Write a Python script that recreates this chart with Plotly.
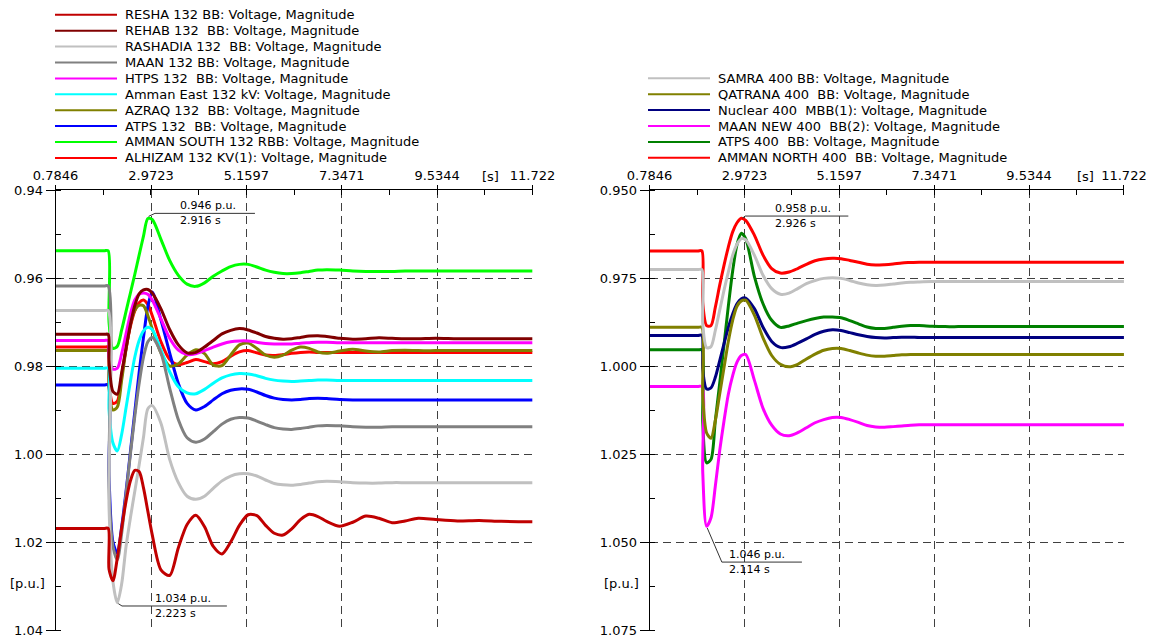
import plotly.graph_objects as go

W, H = 1157, 639          # browser window
PAD = 8                   # default page margin before the plot div
FW, FH = W - PAD, H - PAD  # figure reaches the window's right / bottom edge

# ---------------- data ----------------
T = [0.7846, 1.5, 1.9, 1.99, 2.01, 2.1, 2.2, 2.3, 2.4, 2.5, 2.6, 2.7, 2.8, 2.9, 3.0,
     3.2, 3.4, 3.6, 3.8, 4.0, 4.2, 4.4, 4.6, 4.8, 5.0, 5.2, 5.4, 5.6, 5.8, 6.0,
     6.2, 6.4, 6.6, 6.8, 7.0, 7.3, 7.6, 7.9, 8.2, 8.5, 8.8, 9.1, 9.5, 10.0, 10.5, 11.0, 11.722]

# 132 kV buses (left panel)
RESHA = [1.0169, 1.0169, 1.0169, 1.0169, 1.0262, 1.0288, 1.0236, 1.0168, 1.0107, 1.0061, 1.0037,
         1.0040, 1.0077, 1.0130, 1.0183, 1.0263, 1.0276, 1.0213, 1.0160, 1.0139, 1.0165, 1.0210,
         1.0227, 1.0200, 1.0162, 1.0138, 1.0140, 1.0162, 1.0180, 1.0184, 1.0170, 1.0149, 1.0137,
         1.0142, 1.0153, 1.0164, 1.0155, 1.0141, 1.0146, 1.0156, 1.0152, 1.0146, 1.0149, 1.0152,
         1.0151, 1.0153, 1.0154]
REHAB = [0.9728, 0.9728, 0.9728, 0.9728, 0.979, 0.9858, 0.9864, 0.9815, 0.9760, 0.9706, 0.9663,
         0.9636, 0.9627, 0.9626, 0.9634, 0.9670, 0.9717, 0.9752, 0.9770, 0.9769, 0.9757, 0.9742,
         0.9727, 0.9719, 0.9715, 0.9718, 0.9725, 0.9733, 0.9737, 0.9739, 0.9738, 0.9735, 0.9732,
         0.9731, 0.9733, 0.9737, 0.9739, 0.9738, 0.9736, 0.9737, 0.9738, 0.9738, 0.9737, 0.9738,
         0.9738, 0.9738, 0.9738]
RASHADIA = [0.9674, 0.9674, 0.9674, 0.9674, 1.012, 1.029, 1.0338, 1.0295, 1.021, 1.0145, 1.0085,
            1.0025, 0.9962, 0.9897, 0.9890, 0.9930, 1.0012, 1.0065, 1.0096, 1.0103, 1.0096, 1.0078,
            1.0061, 1.0050, 1.0045, 1.0045, 1.0050, 1.0059, 1.0067, 1.0070, 1.0071, 1.0069, 1.0066,
            1.0063, 1.0062, 1.0063, 1.0065, 1.0066, 1.0066, 1.0065, 1.0065, 1.0065, 1.0065, 1.0065,
            1.0065, 1.0065, 1.0065]
MAAN132 = [0.9618, 0.9618, 0.9618, 0.9618, 1.008, 1.021, 1.024, 1.018, 1.009, 1.000, 0.9915,
           0.9840, 0.9780, 0.9745, 0.9735, 0.9770, 0.9850, 0.9922, 0.9963, 0.9973, 0.9966, 0.9949,
           0.9932, 0.9921, 0.9917, 0.9918, 0.9925, 0.9933, 0.9940, 0.9943, 0.9944, 0.9942, 0.9939,
           0.9936, 0.9935, 0.9936, 0.9938, 0.9939, 0.9939, 0.9938, 0.9938, 0.9938, 0.9938, 0.9938,
           0.9938, 0.9938, 0.9938]
HTPS = [0.9742, 0.9742, 0.9742, 0.9742, 0.978, 0.9807, 0.9805, 0.9772, 0.9727, 0.9682, 0.9650,
        0.9637, 0.9634, 0.9637, 0.9650, 0.9693, 0.9737, 0.9764, 0.9774, 0.9772, 0.9765, 0.9757,
        0.9750, 0.9745, 0.9743, 0.9743, 0.9746, 0.9749, 0.9750, 0.9750, 0.9750, 0.9748, 0.9747,
        0.9746, 0.9746, 0.9747, 0.9747, 0.9747, 0.9747, 0.9747, 0.9747, 0.9747, 0.9747, 0.9747,
        0.9747, 0.9747, 0.9747]
AMMAN_EAST = [0.9805, 0.9805, 0.9805, 0.9805, 0.990, 0.9975, 0.9993, 0.9955, 0.9895, 0.9835, 0.9780,
              0.9742, 0.9720, 0.9712, 0.9717, 0.9763, 0.9813, 0.9847, 0.9861, 0.9863, 0.9853, 0.9839,
              0.9827, 0.9820, 0.9817, 0.9818, 0.9822, 0.9828, 0.9832, 0.9834, 0.9835, 0.9834, 0.9833,
              0.9832, 0.9832, 0.9833, 0.9833, 0.9833, 0.9833, 0.9833, 0.9833, 0.9833, 0.9833, 0.9833,
              0.9833, 0.9833, 0.9833]
AZRAQ = [0.9765, 0.9765, 0.9765, 0.9765, 0.985, 0.9900, 0.9893, 0.9832, 0.9762, 0.9705, 0.9673,
         0.9662, 0.9663, 0.9685, 0.9715, 0.9770, 0.9800, 0.9795, 0.9775, 0.9763, 0.9772, 0.9798,
         0.9799, 0.9775, 0.9752, 0.9748, 0.9760, 0.9775, 0.9780, 0.9775, 0.9764, 0.9757, 0.9760,
         0.9768, 0.9771, 0.9766, 0.9762, 0.9766, 0.9768, 0.9765, 0.9764, 0.9765, 0.9765, 0.9765,
         0.9765, 0.9765, 0.9765]
ATPS132 = [0.9843, 0.9843, 0.9843, 0.9843, 1.005, 1.020, 1.0225, 1.0165, 1.0085, 0.9995, 0.9905,
           0.9815, 0.9735, 0.9665, 0.9632, 0.9695, 0.9770, 0.9840, 0.9885, 0.9900, 0.9892, 0.9877,
           0.9863, 0.9855, 0.9852, 0.9853, 0.9859, 0.9867, 0.9873, 0.9876, 0.9877, 0.9876, 0.9874,
           0.9873, 0.9874, 0.9876, 0.9877, 0.9877, 0.9877, 0.9877, 0.9877, 0.9877, 0.9877, 0.9877,
           0.9877, 0.9877, 0.9877]
AMMAN_SOUTH = [0.9538, 0.9538, 0.9538, 0.9538, 0.970, 0.9760, 0.9755, 0.9718, 0.9676, 0.9634, 0.9592,
               0.9548, 0.9505, 0.9465, 0.9467, 0.9512, 0.9560, 0.9594, 0.9614, 0.9619, 0.9611, 0.9596,
               0.9584, 0.9574, 0.9569, 0.9569, 0.9575, 0.9582, 0.9587, 0.9590, 0.9590, 0.9588, 0.9585,
               0.9582, 0.9581, 0.9582, 0.9584, 0.9585, 0.9585, 0.9585, 0.9584, 0.9584, 0.9584, 0.9584,
               0.9584, 0.9584, 0.9584]
ALHIZAM = [0.9757, 0.9757, 0.9757, 0.9757, 0.984, 0.9885, 0.9880, 0.9822, 0.9760, 0.9710, 0.9675,
           0.9656, 0.9650, 0.9660, 0.9685, 0.9745, 0.9785, 0.9797, 0.9792, 0.9785, 0.9790, 0.9795,
           0.9790, 0.9778, 0.9768, 0.9765, 0.9770, 0.9775, 0.9776, 0.9774, 0.9771, 0.9769, 0.9768,
           0.9769, 0.9769, 0.9769, 0.9769, 0.9769, 0.9769, 0.9769, 0.9769, 0.9769, 0.9769, 0.9769,
           0.9769, 0.9769, 0.9769]

# 400 kV buses (right panel)
SAMRA = [0.9726, 0.9726, 0.9726, 0.9726, 0.988, 0.9948, 0.9945, 0.9899, 0.9842, 0.9785, 0.9733,
         0.9685, 0.9654, 0.9638, 0.9641, 0.9685, 0.9742, 0.9780, 0.9796, 0.9793, 0.9780, 0.9766,
         0.9757, 0.9751, 0.9749, 0.9751, 0.9757, 0.9764, 0.9769, 0.9771, 0.9770, 0.9767, 0.9764,
         0.9762, 0.9761, 0.9760, 0.9760, 0.9760, 0.9760, 0.9760, 0.9760, 0.9760, 0.9760, 0.9760,
         0.9760, 0.9760, 0.9760]
QATRANA = [0.9890, 0.9890, 0.9890, 0.9890, 1.008, 1.0190, 1.0205, 1.0155, 1.0080, 1.0005, 0.9930,
           0.9870, 0.9830, 0.9815, 0.9813, 0.9855, 0.9920, 0.9970, 0.9995, 1.0002, 0.9995, 0.9980,
           0.9966, 0.9955, 0.9950, 0.9950, 0.9956, 0.9963, 0.9969, 0.9972, 0.9972, 0.9970, 0.9968,
           0.9967, 0.9967, 0.9967, 0.9967, 0.9967, 0.9967, 0.9967, 0.9967, 0.9967, 0.9967, 0.9967,
           0.9967, 0.9967, 0.9967]
NUCLEAR = [0.9913, 0.9913, 0.9913, 0.9913, 1.001, 1.0065, 1.0062, 1.0032, 0.9985, 0.9937, 0.9890,
           0.9852, 0.9823, 0.9809, 0.9807, 0.9837, 0.9890, 0.9930, 0.9947, 0.9945, 0.9935, 0.9923,
           0.9910, 0.9901, 0.9897, 0.9899, 0.9905, 0.9911, 0.9916, 0.9919, 0.9920, 0.9919, 0.9918,
           0.9918, 0.9919, 0.9919, 0.9919, 0.9919, 0.9919, 0.9919, 0.9919, 0.9919, 0.9919, 0.9919,
           0.9919, 0.9919, 0.9919]
MAAN_NEW = [1.0058, 1.0058, 1.0058, 1.0058, 1.030, 1.0455, 1.0431, 1.0341, 1.0241, 1.0156, 1.0080,
            1.0027, 0.9989, 0.9970, 0.9967, 1.0040, 1.0120, 1.0168, 1.0193, 1.0198, 1.0189, 1.0175,
            1.0161, 1.0152, 1.0146, 1.0146, 1.0152, 1.0160, 1.0169, 1.0173, 1.0174, 1.0172, 1.0170,
            1.0168, 1.0167, 1.0167, 1.0167, 1.0167, 1.0167, 1.0167, 1.0167, 1.0167, 1.0167, 1.0167,
            1.0167, 1.0167, 1.0167]
ATPS400 = [0.9954, 0.9954, 0.9954, 0.9954, 1.016, 1.0275, 1.0265, 1.0155, 1.0050, 0.9940, 0.9830,
           0.9730, 0.9655, 0.9623, 0.9638, 0.9745, 0.9823, 0.9870, 0.9890, 0.9886, 0.9878, 0.9871,
           0.9865, 0.9861, 0.9861, 0.9863, 0.9871, 0.9880, 0.9889, 0.9893, 0.9893, 0.9890, 0.9887,
           0.9885, 0.9885, 0.9887, 0.9888, 0.9888, 0.9888, 0.9888, 0.9888, 0.9888, 0.9888, 0.9888,
           0.9888, 0.9888, 0.9888]
AMMAN_NORTH = [0.9673, 0.9673, 0.9673, 0.9673, 0.982, 0.9885, 0.9885, 0.9833, 0.9771, 0.9714, 0.9662,
               0.9619, 0.9593, 0.9580, 0.9586, 0.9628, 0.9685, 0.9723, 0.9736, 0.9733, 0.9723, 0.9711,
               0.9701, 0.9696, 0.9694, 0.9695, 0.9700, 0.9705, 0.9711, 0.9713, 0.9712, 0.9710, 0.9707,
               0.9706, 0.9705, 0.9705, 0.9705, 0.9705, 0.9705, 0.9705, 0.9705, 0.9705, 0.9705, 0.9705,
               0.9705, 0.9705, 0.9705]

X_TICKS = [0.7846, 2.9723, 5.1597, 7.3471, 9.5344, 11.722]
X_TICK_TEXT = ["0.7846", "2.9723", "5.1597", "7.3471", "9.5344", "11.722"]
Y1_TICKS = [0.94, 0.96, 0.98, 1.00, 1.02, 1.04]
Y2_TICKS = [0.950, 0.975, 1.000, 1.025, 1.050, 1.075]

# legend order top -> bottom
LEFT = [
    ("RESHA 132 BB: Voltage, Magnitude", "#c00000", RESHA),
    ("REHAB 132  BB: Voltage, Magnitude", "#800000", REHAB),
    ("RASHADIA 132  BB: Voltage, Magnitude", "#c0c0c0", RASHADIA),
    ("MAAN 132 BB: Voltage, Magnitude", "#808080", MAAN132),
    ("HTPS 132  BB: Voltage, Magnitude", "#ff00ff", HTPS),
    ("Amman East 132 kV: Voltage, Magnitude", "#00ffff", AMMAN_EAST),
    ("AZRAQ 132  BB: Voltage, Magnitude", "#808000", AZRAQ),
    ("ATPS 132  BB: Voltage, Magnitude", "#0000ff", ATPS132),
    ("AMMAN SOUTH 132 RBB: Voltage, Magnitude", "#00ff00", AMMAN_SOUTH),
    ("ALHIZAM 132 KV(1): Voltage, Magnitude", "#ff0000", ALHIZAM),
]
RIGHT = [
    ("SAMRA 400 BB: Voltage, Magnitude", "#c0c0c0", SAMRA),
    ("QATRANA 400  BB: Voltage, Magnitude", "#808000", QATRANA),
    ("Nuclear 400  MBB(1): Voltage, Magnitude", "#000080", NUCLEAR),
    ("MAAN NEW 400  BB(2): Voltage, Magnitude", "#ff00ff", MAAN_NEW),
    ("ATPS 400  BB: Voltage, Magnitude", "#008000", ATPS400),
    ("AMMAN NORTH 400  BB: Voltage, Magnitude", "#ff0000", AMMAN_NORTH),
]
for _n, _c, _v in LEFT + RIGHT:
    assert len(_v) == len(T), (_n, len(_v))

# markers: (time, value, text_value, text_time)
LEFT_MARKS = [(2.916, 0.946, "0.946 p.u.", "2.916 s"), (2.223, 1.034, "1.034 p.u.", "2.223 s")]
RIGHT_MARKS = [(2.926, 0.958, "0.958 p.u.", "2.926 s"), (2.114, 1.046, "1.046 p.u.", "2.114 s")]

# ---------------- figure ----------------
FONT = "DejaVu Sans"
fig = go.Figure()

for (series, xa, ya) in ((LEFT, "x", "y"), (RIGHT, "x2", "y2")):
    for name, color, vals in reversed(series):
        fig.add_trace(go.Scatter(x=T, y=vals, mode="lines", name=name, showlegend=False,
                                 xaxis=xa, yaxis=ya,
                                 line=dict(color=color, width=3, shape="spline", smoothing=0.8)))

def px(x):
    """window pixel -> paper x"""
    return (x - PAD) / FW

def py(y):
    """window pixel -> paper y"""
    return 1 - (y - PAD) / FH

shapes = []
annotations = []

# manual legends
def legend(series, x_line0, x_line1, x_text, y_top, dy):
    for i, (name, color, _v) in enumerate(series):
        yy = py(y_top + dy * i)
        shapes.append(dict(type="line", xref="paper", yref="paper", x0=px(x_line0), x1=px(x_line1),
                           y0=yy, y1=yy, line=dict(color=color, width=2)))
        annotations.append(dict(xref="paper", yref="paper", x=px(x_text), y=yy, text=name,
                                showarrow=False, xanchor="left", yanchor="middle",
                                font=dict(family=FONT, size=13, color="black")))

legend(LEFT, 55, 117, 123, 14.8, 15.9)
legend(RIGHT, 648, 710, 716, 78.3, 15.9)

# peak / dip callouts
def callout(xr, yr, t0, v0, dt1, dv1, dt2, tt, dvt1, dvt2, txt1, txt2):
    shapes.append(dict(type="path", xref=xr, yref=yr,
                       path=f"M{t0},{v0} L{t0+dt1},{v0+dv1} L{t0+dt2},{v0+dv1}",
                       line=dict(color="#333333", width=1)))
    annotations.append(dict(xref=xr, yref=yr, x=t0 + tt, y=v0 + dv1 + dvt1, text=txt1, showarrow=False,
                            xanchor="left", yanchor="middle", font=dict(family=FONT, size=11, color="black")))
    annotations.append(dict(xref=xr, yref=yr, x=t0 + tt, y=v0 + dv1 + dvt2, text=txt2, showarrow=False,
                            xanchor="left", yanchor="middle", font=dict(family=FONT, size=11, color="black")))

t, v, a, b = LEFT_MARKS[0]
callout("x", "y", t, v, 0.147, -0.00069, 2.44, 0.674, -0.00175, 0.00165, a, b)
t, v, a, b = LEFT_MARKS[1]
callout("x", "y", t, v, 0.084, 0.00053, 2.49, 0.794, -0.00160, 0.00165, a, b)
t, v, a, b = RIGHT_MARKS[0]
callout("x2", "y2", t, v, 0.062, -0.0006, 2.441, 0.708, -0.0021, 0.0021, a, b)
t, v, a, b = RIGHT_MARKS[1]
callout("x2", "y2", t, v, 0.336, 0.00967, 2.183, 0.458, -0.0021, 0.0021, a, b)

# axis unit labels
for xx, yy, txt, anc in ((490, 176, "[s]", "center"), (1085, 176, "[s]", "center"),
                         (47, 583, "[p.u.]", "right"), (641, 583, "[p.u.]", "right")):
    annotations.append(dict(xref="paper", yref="paper", x=px(xx), y=py(yy), text=txt, showarrow=False,
                            xanchor=anc, yanchor="middle", font=dict(family=FONT, size=13, color="black")))

grid = dict(showgrid=True, gridcolor="#404040", gridwidth=1, griddash="8px,5px",
            showline=True, linecolor="black", linewidth=1, zeroline=False, automargin=False,
            tickfont=dict(family=FONT, size=13, color="black"), ticks="outside",
            tickcolor="black", ticklen=6)

xcommon = dict(grid, side="top", tickmode="array", tickvals=X_TICKS, ticktext=X_TICK_TEXT,
               range=[0.7846, 11.7235], ticklen=4,
               minor=dict(ticks="inside", ticklen=5, tickcolor="black", tick0=0.7846, dtick=1.09374,
                          showgrid=False))

YDOM = [py(630.5), py(190)]

fig.update_layout(
    template="none",
    width=FW, height=FH, margin=dict(l=0, r=0, t=0, b=0, pad=0), autosize=False,
    paper_bgcolor="white", plot_bgcolor="white", showlegend=False,
    xaxis=dict(xcommon, domain=[px(55.6), px(532.6)], anchor="y"),
    yaxis=dict(grid, domain=YDOM, anchor="x", range=[1.0401, 0.94],
               tickmode="array", tickvals=Y1_TICKS, ticktext=[f"{x:.2f}" for x in Y1_TICKS],
               ticklen=9,
               minor=dict(ticks="inside", ticklen=5, tickcolor="black", tick0=0.95, dtick=0.01,
                          showgrid=False)),
    xaxis2=dict(xcommon, domain=[px(649.6), px(1124)], anchor="y2"),
    yaxis2=dict(grid, domain=YDOM, anchor="x2", range=[1.0751, 0.95],
                tickmode="array", tickvals=Y2_TICKS, ticktext=[f"{x:.3f}" for x in Y2_TICKS],
                ticklen=9,
                minor=dict(ticks="inside", ticklen=5, tickcolor="black", tick0=0.9625, dtick=0.0125,
                           showgrid=False)),
    shapes=shapes, annotations=annotations,
)

fig.write_html("out.html")
